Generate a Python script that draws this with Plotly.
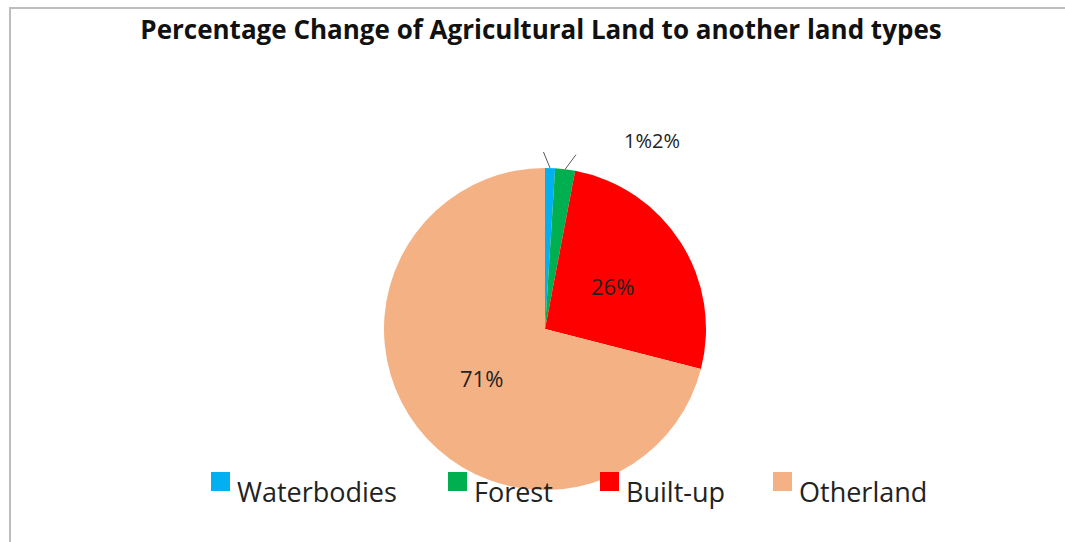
import math
import plotly.graph_objects as go

# Share of agricultural land converted to each other land type (%)
categories = ["Waterbodies", "Forest", "Built-up", "Otherland"]
shares = [1, 2, 26, 71]
colors = ["#00B0F0", "#00B050", "#FF0000", "#F4B183"]

W, H = 1065, 542
cx, cy, r = 545, 329, 161  # pie centre and radius in pixels

# Legend layout (pixel positions of each swatch's left edge)
legend_x = [211, 448, 600, 773]
legend_swatch = 19
legend_top = 472
legend_text_y = 491


def px_x(x):
    return x / W


def px_y(y):
    return 1 - y / H


text_font = "Open Sans"
label_color = "#222222"

fig = go.Figure(
    go.Pie(
        labels=categories,
        values=shares,
        marker=dict(colors=colors, line=dict(width=0)),
        sort=False,
        direction="clockwise",
        rotation=0,
        textinfo="none",
        showlegend=False,
        domain=dict(x=[px_x(cx - r), px_x(cx + r)], y=[px_y(cy + r), px_y(cy - r)]),
        hoverinfo="label+percent",
    )
)

# Data labels: thick slices get their value inside, thin ones outside with leader lines
total = sum(shares)
leader_offset = [-0.04, 0.05]
small_text = ""
start = 0.0
for i, v in enumerate(shares):
    mid = (start + v / 2) / total * 2 * math.pi
    start += v
    if v >= 5:
        lr = 0.5 * r
        fig.add_annotation(
            x=px_x(cx + lr * math.sin(mid)), y=px_y(cy - lr * math.cos(mid)),
            xref="paper", yref="paper", text=f"{v}%", showarrow=False,
            xanchor="center", yanchor="middle",
            font=dict(family=text_font, size=22, color=label_color),
        )
        continue
    a = mid + leader_offset[i]
    fig.add_shape(
        type="line", xref="paper", yref="paper",
        x0=px_x(cx + r * math.sin(mid)), y0=px_y(cy - r * math.cos(mid)),
        x1=px_x(cx + (r + 16) * math.sin(a)), y1=px_y(cy - (r + 16) * math.cos(a)),
        line=dict(color="#595959", width=1),
    )
    small_text += f"{v}%"

fig.add_annotation(
    x=px_x(652), y=px_y(140), xref="paper", yref="paper",
    text=small_text, showarrow=False, xanchor="center", yanchor="middle",
    font=dict(family=text_font, size=20, color=label_color),
)

# Legend: square swatch raised above the label baseline
for name, col, lx in zip(categories, colors, legend_x):
    fig.add_shape(
        type="rect", xref="paper", yref="paper",
        x0=px_x(lx), x1=px_x(lx + legend_swatch),
        y0=px_y(legend_top + legend_swatch), y1=px_y(legend_top),
        fillcolor=col, line=dict(width=0),
    )
    fig.add_annotation(
        x=px_x(lx + legend_swatch + 5), y=px_y(legend_text_y),
        xref="paper", yref="paper", text=name, showarrow=False,
        xanchor="left", yanchor="middle",
        font=dict(family=text_font, size=27, color=label_color),
    )

# Chart frame
fig.add_shape(
    type="rect", xref="paper", yref="paper",
    x0=px_x(10), y0=px_y(560), x1=px_x(1080), y1=px_y(8),
    line=dict(color="#BDBDBD", width=2), layer="below",
)

fig.update_layout(
    width=W,
    height=H,
    margin=dict(l=0, r=0, t=0, b=0),
    paper_bgcolor="white",
    showlegend=False,
    title=dict(
        text="<b>Percentage Change of Agricultural Land to another land types</b>",
        x=px_x(541), xanchor="center", y=px_y(30), yanchor="middle",
        font=dict(family=text_font, size=26, color="#111111"),
    ),
)

fig.write_html("out.html")
